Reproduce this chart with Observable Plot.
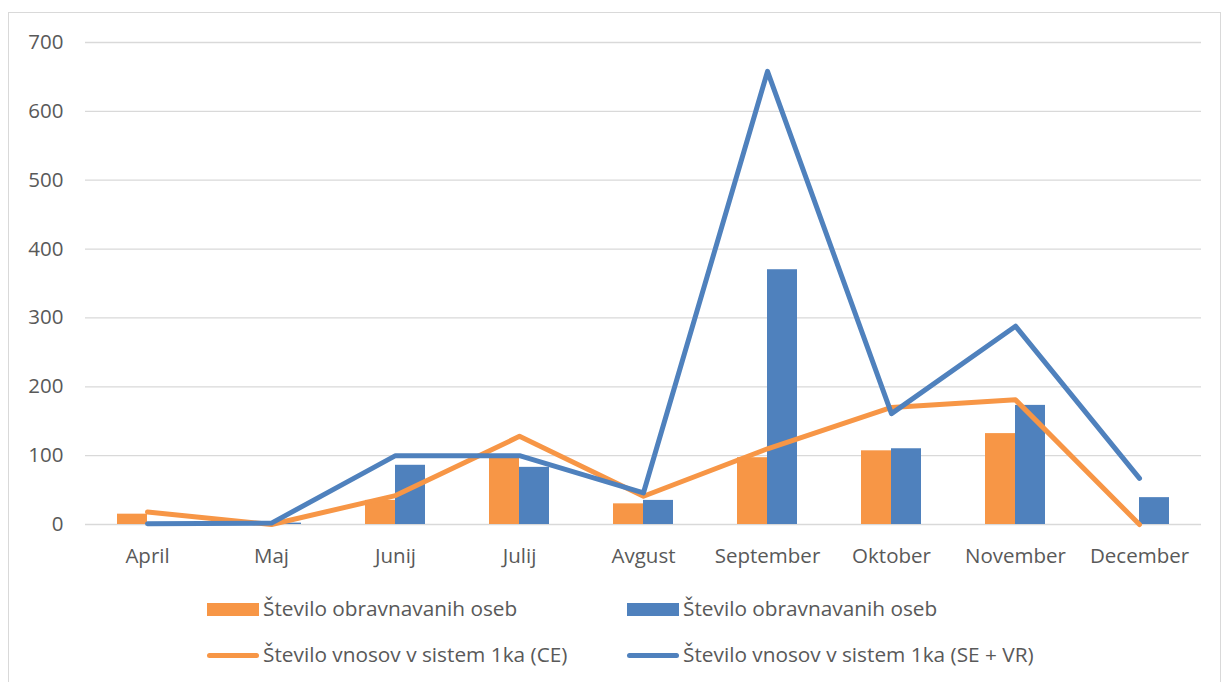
<!DOCTYPE html>
<html>
<head>
<meta charset="utf-8">
<script src="https://cdn.jsdelivr.net/npm/d3@7"></script>
<script src="https://cdn.jsdelivr.net/npm/@observablehq/plot@0.6"></script>
<style>
  html, body { margin: 0; padding: 0; background: #fff; }
  body { width: 1230px; height: 682px; position: relative; overflow: hidden; font-family: "Open Sans", "Liberation Sans", sans-serif; }
  #frame { position: absolute; left: 8px; top: 12px; width: 1213px; height: 690px; border: 1px solid #d9d9d9; box-sizing: border-box; }
  #chart { position: absolute; left: 0; top: 0; }
  .leg { position: absolute; font-size: 20.8px; line-height: 1; color: #595959; white-space: nowrap; font-family: "Open Sans", "Liberation Sans", sans-serif; }
  .sw { position: absolute; }
</style>
</head>
<body>
<div id="frame"></div>
<div id="chart"></div>
<div id="legend"></div>
<script>
const months = ["April", "Maj", "Junij", "Julij", "Avgust", "September", "Oktober", "November", "December"];
const barsCE = [15, 0, 35, 97, 30, 97, 107, 132, 0];
const barsSE = [0, 2, 86, 83, 35, 370, 110, 173, 39];
const lineCE = [18, 0, 42, 128, 41, 110, 170, 181, 0];
const lineSE = [1, 2, 100, 100, 46, 658, 161, 288, 67];
const yTicks = [0, 100, 200, 300, 400, 500, 600, 700];
const seriesNames = ["Število obravnavanih oseb", "Število obravnavanih oseb", "Število vnosov v sistem 1ka (CE)", "Število vnosov v sistem 1ka (SE + VR)"];
const orange = "#F79646", blue = "#4F81BD";

const rows = (vals) => months.map((m, i) => ({month: m, value: vals[i]}));

const bw = (1201 - 85) / months.length;
const barW = 30;

const chart = Plot.plot({
  width: 1230,
  height: 580,
  marginLeft: 85,
  marginRight: 29,
  marginTop: 42,
  marginBottom: 56,
  style: {fontFamily: "'Open Sans', 'Liberation Sans', sans-serif", fontSize: "20.5px", color: "#595959", background: "transparent"},
  x: {type: "band", domain: months, padding: 0, label: null, tickSize: 0, tickPadding: 24},
  y: {domain: [0, 700], ticks: yTicks, label: null, tickSize: 0, tickPadding: 22, tickFormat: d => String(d)},
  marks: [
    Plot.ruleY(yTicks, {stroke: "#d9d9d9", strokeWidth: 1.3}),
    Plot.barY(rows(barsCE), {x: "month", y: "value", fill: orange, insetLeft: bw / 2 - barW, insetRight: bw / 2}),
    Plot.barY(rows(barsSE), {x: "month", y: "value", fill: blue, insetLeft: bw / 2, insetRight: bw / 2 - barW}),
    Plot.lineY(rows(lineCE), {x: "month", y: "value", stroke: orange, strokeWidth: 5, strokeLinecap: "round", strokeLinejoin: "round"}),
    Plot.lineY(rows(lineSE), {x: "month", y: "value", stroke: blue, strokeWidth: 5, strokeLinecap: "round", strokeLinejoin: "round"})
  ]
});
document.getElementById("chart").appendChild(chart);

const legend = document.getElementById("legend");
const items = [
  {name: seriesNames[0], color: orange, kind: "rect", x: 207, y: 609},
  {name: seriesNames[1], color: blue, kind: "rect", x: 627, y: 609},
  {name: seriesNames[2], color: orange, kind: "line", x: 207, y: 655},
  {name: seriesNames[3], color: blue, kind: "line", x: 627, y: 655}
];
for (const it of items) {
  const sw = document.createElement("div");
  sw.className = "sw";
  sw.style.left = it.x + "px";
  sw.style.width = "52px";
  sw.style.background = it.color;
  if (it.kind === "rect") {
    sw.style.top = (it.y - 6) + "px";
    sw.style.height = "13px";
  } else {
    sw.style.top = (it.y - 2.5) + "px";
    sw.style.height = "5px";
    sw.style.borderRadius = "3px";
  }
  legend.appendChild(sw);
  const t = document.createElement("div");
  t.className = "leg";
  t.textContent = it.name;
  t.style.left = (it.x + 56) + "px";
  t.style.top = (it.y - 11) + "px";
  legend.appendChild(t);
}
</script>
</body>
</html>
